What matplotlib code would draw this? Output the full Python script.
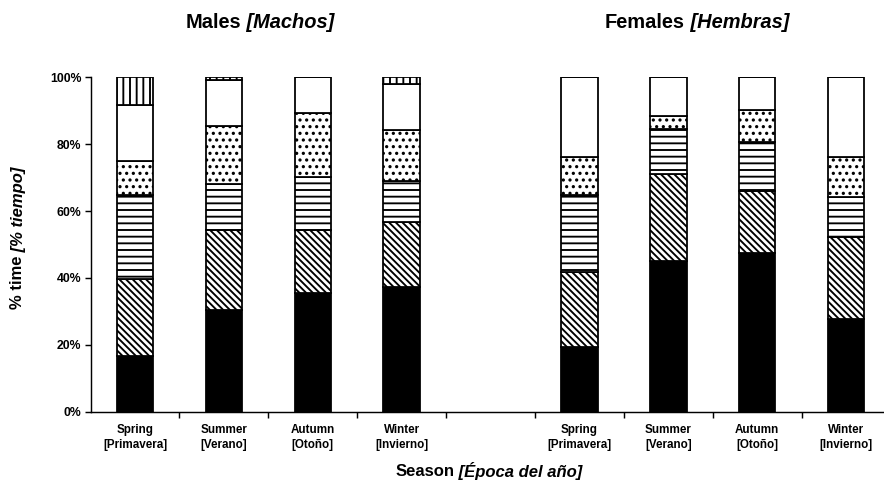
import matplotlib
matplotlib.use("Agg")
import matplotlib.pyplot as plt
from matplotlib.transforms import IdentityTransform
import numpy as np

# % of time per activity class, stacked bottom -> top
seasons = ["Spring\n[Primavera]", "Summer\n[Verano]", "Autumn\n[Otoño]", "Winter\n[Invierno]"]

males_solid = [16.8, 30.5, 35.4, 37.4]
males_diag = [22.9, 23.7, 19.0, 19.3]
males_horiz = [25.0, 14.0, 15.8, 12.3]
males_dots = [10.2, 17.1, 19.1, 15.1]
males_blank = [16.9, 13.9, 10.7, 13.8]
males_vert = [8.2, 0.8, 0.0, 2.1]

females_solid = [19.3, 45.0, 47.4, 27.7]
females_diag = [22.4, 26.0, 18.6, 24.5]
females_horiz = [23.0, 13.6, 14.6, 12.0]
females_dots = [11.6, 3.7, 9.7, 11.9]
females_blank = [23.7, 11.7, 9.7, 23.9]
females_vert = [0.0, 0.0, 0.0, 0.0]

yticks = [0, 20, 40, 60, 80, 100]

# layout
W, H, DPI = 884, 487, 80
plt.rcParams["font.family"] = "Liberation Sans"
plt.rcParams["hatch.linewidth"] = 1.7

fig = plt.figure(figsize=(W / DPI, H / DPI), dpi=DPI)
ax = fig.add_axes([90.5 / W, 75.3 / H, 800.1 / W, 334.4 / H])

BSL = chr(92)  # backslash, for the diagonal hatch
styles = [
    dict(color="black", hatch=None),
    dict(color="white", hatch=BSL * 4),
    dict(color="white", hatch="--"),
    dict(color="white", hatch=".."),
    dict(color="white", hatch=None),
    dict(color="white", hatch="||"),
]

groups = [
    (np.arange(4), [males_solid, males_diag, males_horiz, males_dots, males_blank, males_vert]),
    (np.arange(4) + 5, [females_solid, females_diag, females_horiz, females_dots, females_blank, females_vert]),
]

for xpos, layers in groups:
    bottom = np.zeros(len(xpos))
    for vals, st in zip(layers, styles):
        vals = np.array(vals)
        ax.bar(xpos, vals, bottom=bottom, width=0.41, color=st["color"],
               hatch=st["hatch"], edgecolor="black", linewidth=1.6)
        bottom += vals

ax.set_xlim(-0.5, 8.5)
ax.set_ylim(0, 100)
for s in ["top", "right"]:
    ax.spines[s].set_visible(False)
for s in ["left", "bottom"]:
    ax.spines[s].set_linewidth(1.3)

ax.set_yticks(yticks)
ax.set_yticklabels([f"{v}%" for v in yticks], fontsize=11, fontweight="bold")
ax.tick_params(axis="y", direction="out", length=5, width=1.3, pad=3)

centers = list(groups[0][0]) + list(groups[1][0])
ax.set_xticks(centers)
ax.set_xticklabels(seasons * 2, fontsize=10.5, fontweight="bold", linespacing=1.3)
ax.set_xticks(np.arange(0.5, 8.5, 1.0), minor=True)
ax.tick_params(axis="x", which="major", length=0, pad=11)
ax.tick_params(axis="x", which="minor", direction="out", length=5, width=1.3)

renderer = fig.canvas.get_renderer()


def two_part(cx, cy, plain, italic, size, rotation=0):
    # bold plain part followed by bold italic part, centred on (cx, cy) in pixels
    kw = dict(fontsize=size, fontweight="bold", rotation=rotation,
              rotation_mode="anchor", ha="left", va="center",
              transform=IdentityTransform())
    t1 = fig.text(0, 0, plain, **kw)
    t2 = fig.text(0, 0, italic, style="italic", **kw)
    b1 = t1.get_window_extent(renderer)
    b2 = t2.get_window_extent(renderer)
    if rotation == 0:
        w1, w2 = b1.width, b2.width
        start = cx - (w1 + w2) / 2
        t1.set_position((start, cy))
        t2.set_position((start + w1, cy))
    else:
        w1, w2 = b1.height, b2.height
        start = cy - (w1 + w2) / 2
        t1.set_position((cx, start))
        t2.set_position((cx, start + w1))


two_part(260, H - 23, "Males", " [Machos]", 18)
two_part(697, H - 23, "Females", " [Hembras]", 18)
two_part(489, H - 471, "Season", " [Época del año]", 15)
two_part(18, H - 238, "% time", " [% tiempo]", 15, rotation=90)

fig.savefig("out.png", dpi=DPI)
